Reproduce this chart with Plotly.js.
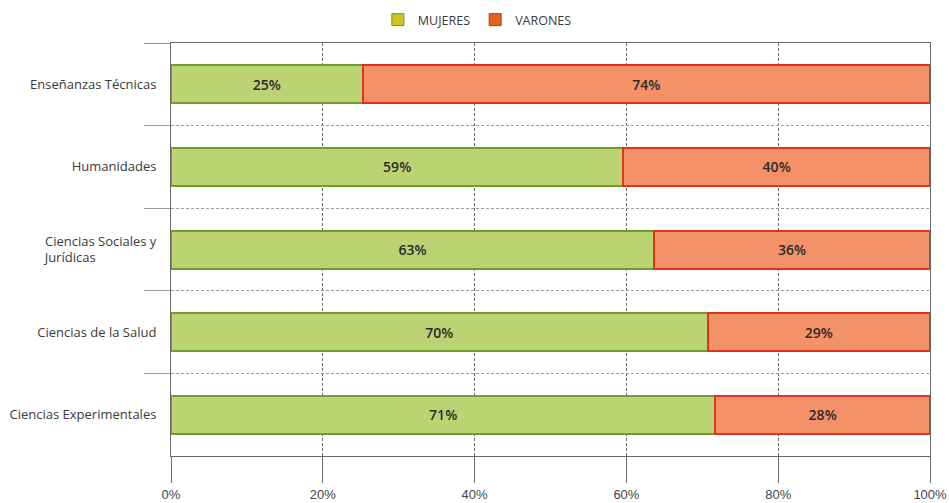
<!DOCTYPE html>
<html>
<head>
<meta charset="utf-8">
<script src="https://cdn.plot.ly/plotly-3.0.1.min.js"></script>
<style>html,body{margin:0;padding:0;background:#fff;}#chart{width:949px;height:503px;}</style>
</head>
<body>
<div id="chart"></div>
<script>
// Data (top to bottom)
const categories = [
  "Enseñanzas Técnicas",
  "Humanidades",
  "Ciencias Sociales y<br>Jurídicas" + "\u00a0".repeat(18),
  "Ciencias de la Salud",
  "Ciencias Experimentales"
];
const mujeres = [25, 59, 63, 70, 71];
const varones = [74, 40, 36, 29, 28];
const xTickVals = [0, 20, 40, 60, 80, 100];
const xTickText = ["0%", "20%", "40%", "60%", "80%", "100%"];

const barFont = {family: "Open Sans, sans-serif", size: 14, color: "#2b2b2b", weight: 600};

const traces = [
  {
    type: "bar", orientation: "h", name: "MUJERES", showlegend: false,
    y: categories, x: mujeres,
    text: mujeres.map(v => v + "%"), texttemplate: "%{text}",
    textposition: "inside", insidetextanchor: "middle", textfont: barFont,
    marker: {color: "#bcd373", line: {color: "#6f9c2c", width: 2}},
    hoverinfo: "skip"
  },
  {
    type: "bar", orientation: "h", name: "VARONES", showlegend: false,
    y: categories, x: varones,
    text: varones.map(v => v + "%"), texttemplate: "%{text}",
    textposition: "inside", insidetextanchor: "middle", textfont: barFont,
    marker: {color: "#f39268", line: {color: "#e0321c", width: 2}},
    hoverinfo: "skip"
  },
  // legend entries
  {type: "bar", orientation: "h", name: "MUJERES", x: [null], y: [null],
   marker: {color: "#c9c624", line: {color: "#8a8a20", width: 1}}},
  {type: "bar", orientation: "h", name: "VARONES", x: [null], y: [null],
   marker: {color: "#e8621c", line: {color: "#a84010", width: 1}}}
];

const layout = {
  width: 949, height: 503,
  margin: {l: 171, r: 19, t: 43, b: 47},
  paper_bgcolor: "#ffffff", plot_bgcolor: "#ffffff",
  barmode: "stack", barnorm: "percent", bargap: 0.54,
  showlegend: true,
  legend: {
    orientation: "h", traceorder: "normal", xref: "container", yref: "container",
    x: 0.503, xanchor: "center", y: 0.99, yanchor: "top",
    font: {family: "Open Sans, sans-serif", size: 12.5, color: "#3a3a3a"},
    itemwidth: 30, tracegroupgap: 0
  },
  xaxis: {
    range: [0, 100], tickvals: xTickVals, ticktext: xTickText,
    showgrid: true, gridcolor: "#6a6a6a", griddash: "3px,2px", gridwidth: 1,
    ticks: "outside", ticklen: 26, tickcolor: "#6a6a6a", tickwidth: 1,
    showline: true, linecolor: "#666", linewidth: 1, mirror: true,
    zeroline: false,
    tickfont: {family: "Liberation Sans, Arial, sans-serif", size: 13, color: "#444"},
    fixedrange: true
  },
  yaxis: {
    type: "category", autorange: "reversed",
    tickson: "boundaries",
    showgrid: true, gridcolor: "#9a9a9a", griddash: "3px,2px", gridwidth: 1,
    ticks: "outside", ticklen: 26, tickcolor: "#9a9a9a", tickwidth: 1,
    ticklabelstandoff: 11,
    showline: true, linecolor: "#666", linewidth: 1, mirror: true,
    tickfont: {family: "Open Sans, sans-serif", size: 13, color: "#3a3a3a"},
    fixedrange: true
  },
  font: {family: "Open Sans, sans-serif"}
};

Plotly.newPlot("chart", traces, layout, {staticPlot: true, displayModeBar: false});
</script>
</body>
</html>
